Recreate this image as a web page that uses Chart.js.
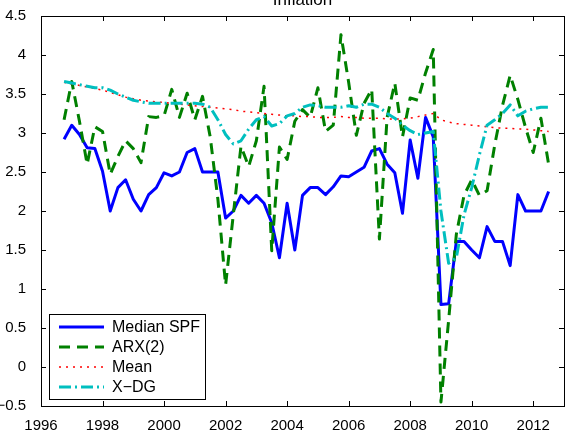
<!DOCTYPE html>
<html>
<head>
<meta charset="utf-8">
<script src="https://cdn.jsdelivr.net/npm/chart.js@4/dist/chart.umd.min.js"></script>
<style>
  html, body { margin: 0; padding: 0; background: #fff; }
  #grafico { display: block; }
</style>
</head>
<body>
<canvas id="grafico" width="568" height="432"></canvas>
<script>
// quarters (decimal years)
var quarters = [1996.75, 1997, 1997.25, 1997.5, 1997.75, 1998, 1998.25, 1998.5, 1998.75, 1999, 1999.25, 1999.5, 1999.75, 2000, 2000.25, 2000.5,
    2000.75, 2001, 2001.25, 2001.5, 2001.75, 2002, 2002.25, 2002.5, 2002.75, 2003, 2003.25, 2003.5, 2003.75, 2004, 2004.25, 2004.5,
    2004.75, 2005, 2005.25, 2005.5, 2005.75, 2006, 2006.25, 2006.5, 2006.75, 2007, 2007.25, 2007.5, 2007.75, 2008, 2008.25, 2008.5,
    2008.75, 2009, 2009.25, 2009.5, 2009.75, 2010, 2010.25, 2010.5, 2010.75, 2011, 2011.25, 2011.5, 2011.75, 2012, 2012.25, 2012.5];

var medianSPF = [2.92, 3.10, 2.98, 2.81, 2.80, 2.51, 2.00, 2.30, 2.40, 2.15, 2.00, 2.21, 2.30, 2.49, 2.45, 2.50,
    2.75, 2.80, 2.50, 2.50, 2.50, 1.91, 2.00, 2.20, 2.10, 2.20, 2.10, 1.85, 1.40, 2.10, 1.50, 2.20,
    2.30, 2.30, 2.21, 2.31, 2.45, 2.44, 2.50, 2.56, 2.77, 2.80, 2.60, 2.49, 1.97, 2.91, 2.42, 3.20,
    2.95, 0.80, 0.81, 1.61, 1.61, 1.50, 1.40, 1.80, 1.61, 1.61, 1.30, 2.21, 2.00, 2.00, 2.00, 2.25];

var arx2 = [3.17, 3.66, 3.15, 2.60, 3.08, 3.02, 2.47, 2.70, 2.90, 2.80, 2.62, 3.21, 3.20, 3.22, 3.56, 3.20,
    3.51, 3.17, 3.47, 2.95, 2.15, 1.05, 1.95, 2.83, 2.57, 2.90, 3.60, 1.49, 2.82, 2.66, 3.15, 3.30,
    3.20, 3.58, 3.02, 3.10, 4.26, 3.65, 2.97, 3.38, 3.56, 1.64, 3.20, 3.64, 2.95, 3.45, 3.42, 3.77,
    4.07, -0.45, 0.60, 1.70, 2.20, 2.40, 2.20, 2.26, 2.85, 3.35, 3.74, 3.43, 3.07, 2.75, 3.19, 2.60];

var mean = [3.65, 3.63, 3.61, 3.59, 3.57, 3.55, 3.52, 3.49, 3.46, 3.44, 3.42, 3.41, 3.40, 3.39, 3.38, 3.37,
    3.36, 3.35, 3.34, 3.33, 3.32, 3.31, 3.30, 3.28, 3.27, 3.26, 3.25, 3.24, 3.23, 3.22, 3.22, 3.21,
    3.21, 3.20, 3.20, 3.20, 3.21, 3.20, 3.20, 3.19, 3.19, 3.19, 3.18, 3.18, 3.18, 3.19, 3.21, 3.23,
    3.25, 3.17, 3.14, 3.12, 3.11, 3.10, 3.09, 3.08, 3.07, 3.06, 3.06, 3.05, 3.05, 3.04, 3.03, 3.02];

var xdg = [3.66, 3.64, 3.62, 3.60, 3.58, 3.58, 3.55, 3.50, 3.46, 3.42, 3.40, 3.38, 3.38, 3.38, 3.38, 3.38,
    3.38, 3.38, 3.37, 3.33, 3.17, 2.98, 2.86, 2.90, 3.05, 3.17, 3.21, 3.09, 3.12, 3.22, 3.25, 3.33,
    3.36, 3.35, 3.33, 3.33, 3.33, 3.35, 3.33, 3.37, 3.37, 3.33, 3.25, 3.19, 3.10, 3.03, 2.98, 3.00,
    3.02, 2.00, 1.33, 1.40, 1.95, 2.30, 2.72, 3.10, 3.17, 3.25, 3.36, 3.22, 3.28, 3.31, 3.33, 3.33];

var xTicks = [1996, 1998, 2000, 2002, 2004, 2006, 2008, 2010, 2012];
var yTicks = [-0.5, 0, 0.5, 1, 1.5, 2, 2.5, 3, 3.5, 4, 4.5];

var fonte = '"Liberation Sans", Arial, Helvetica, sans-serif';

function pontos(valores){
    return quarters.map(function(q, i){ return {x: q, y: valores[i]}; });
}

// matlab style box, inward ticks, title and legend
var moldura = {
    id: 'moldura',
    afterDraw: function(chart){
        var ctx = chart.ctx;
        var area = chart.chartArea;
        var sx = chart.scales.x, sy = chart.scales.y;
        ctx.save();
        ctx.strokeStyle = '#000';
        ctx.lineWidth = 1;
        ctx.beginPath();
        xTicks.forEach(function(v){
            var px = Math.round(sx.getPixelForValue(v)) + 0.5;
            ctx.moveTo(px, area.bottom); ctx.lineTo(px, area.bottom - 5);
            ctx.moveTo(px, area.top); ctx.lineTo(px, area.top + 5);
        });
        yTicks.forEach(function(v){
            var py = Math.round(sy.getPixelForValue(v)) + 0.5;
            ctx.moveTo(area.left, py); ctx.lineTo(area.left + 5, py);
            ctx.moveTo(area.right, py); ctx.lineTo(area.right - 5, py);
        });
        ctx.stroke();
        ctx.strokeRect(Math.round(area.left) + 0.5, Math.round(area.top) + 0.5,
            Math.round(area.right - area.left), Math.round(area.bottom - area.top));

        // title (cut by the top edge)
        ctx.fillStyle = '#000';
        ctx.font = '17px ' + fonte;
        ctx.textAlign = 'center';
        ctx.textBaseline = 'alphabetic';
        ctx.fillText('Inflation', (area.left + area.right) / 2, 5);

        // legend
        var lx = 49.5, ly = 314.5, lw = 156, lh = 85;
        ctx.fillStyle = '#fff';
        ctx.fillRect(lx, ly, lw, lh);
        ctx.strokeRect(lx, ly, lw, lh);
        ctx.font = '16px ' + fonte;
        ctx.textAlign = 'left';
        ctx.textBaseline = 'middle';
        chart.data.datasets.forEach(function(ds, i){
            var yy = 327 + i * 20;
            ctx.save();
            ctx.strokeStyle = ds.borderColor;
            ctx.lineWidth = ds.borderWidth;
            ctx.setLineDash(ds.borderDash || []);
            ctx.beginPath();
            ctx.moveTo(59, yy); ctx.lineTo(104, yy);
            ctx.stroke();
            ctx.restore();
            ctx.fillStyle = '#000';
            ctx.fillText(ds.label, 112, yy + 1);
        });
        ctx.restore();
    }
};

var ctx = document.getElementById('grafico').getContext('2d');
window.grafico = new Chart(ctx, {
    type: 'line',
    data: {
        datasets: [{
            label: 'Median SPF',
            data: pontos(medianSPF),
            borderColor: '#0000ff',
            borderWidth: 3,
            order: 4
        },{
            label: 'ARX(2)',
            data: pontos(arx2),
            borderColor: '#008000',
            borderWidth: 3,
            borderDash: [11, 7],
            order: 3
        },{
            label: 'Mean',
            data: pontos(mean),
            borderColor: '#ff0000',
            borderWidth: 1.5,
            borderDash: [2, 5],
            order: 2
        },{
            label: 'X\u2212DG',
            data: pontos(xdg),
            borderColor: '#00bfbf',
            borderWidth: 3,
            borderDash: [12, 4, 2, 4],
            order: 1
        }]
    },
    options: {
        responsive: false,
        animation: false,
        devicePixelRatio: 1,
        elements: {
            point: { radius: 0, hoverRadius: 0 },
            line: { tension: 0, fill: false, borderJoinStyle: 'round' }
        },
        layout: { padding: { top: 14, right: 4, left: 0, bottom: 0 } },
        plugins: {
            legend: { display: false },
            title: { display: false },
            tooltip: { enabled: false }
        },
        scales: {
            x: {
                type: 'linear',
                min: 1996,
                max: 2013,
                grid: { display: false },
                border: { display: false },
                afterBuildTicks: function(scale){
                    scale.ticks = xTicks.map(function(v){ return {value: v}; });
                },
                afterFit: function(scale){ scale.height = 26; },
                ticks: {
                    color: '#000',
                    padding: 3,
                    maxRotation: 0,
                    autoSkip: false,
                    font: { family: fonte, size: 15 },
                    callback: function(v){ return String(v); }
                }
            },
            y: {
                min: -0.5,
                max: 4.5,
                grid: { display: false },
                border: { display: false },
                afterBuildTicks: function(scale){
                    scale.ticks = yTicks.map(function(v){ return {value: v}; });
                },
                afterFit: function(scale){ scale.width = 41; },
                ticks: {
                    color: '#000',
                    padding: 7,
                    autoSkip: false,
                    font: { family: fonte, size: 15 },
                    callback: function(v){ return v < 0 ? '\u2212' + String(-v) : String(v); }
                }
            }
        }
    },
    plugins: [moldura]
});
</script>
</body>
</html>
